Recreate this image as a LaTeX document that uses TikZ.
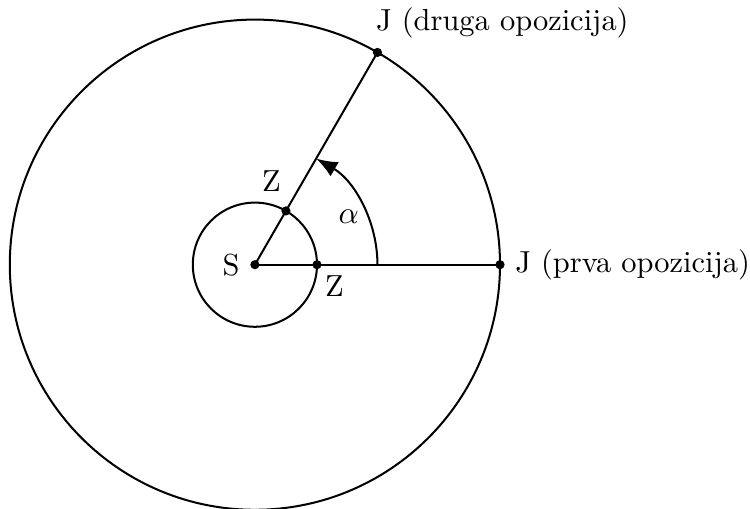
\documentclass[tikz,border=0pt]{standalone}
\usepackage{amsmath,amssymb}
\usepackage{tikz}
\usetikzlibrary{arrows.meta, positioning, calc}

\begin{document}
\begin{tikzpicture}[
    every node/.style={font=\fontsize{10.6}{13}\selectfont},
    orbit/.style={line width=0.7pt},
    ray/.style={line width=0.7pt},
    dot/.style={circle, fill=black, inner sep=0pt, minimum size=3.2pt},
    arrow/.style={-{Latex[length=2.6mm, width=2mm]}, line width=0.7pt}
]
\useasboundingbox (-3.12,-2.98) rectangle (6.06,3.24);

% orbits
\node[dot] (sun) at (0,0) {};
\draw[orbit] (sun.center) circle (0.76);
\draw[orbit] (sun.center) circle (3);

% points on the orbits
\node[dot] (z1) at (0:0.76) {};
\node[dot] (z2) at (60:0.76) {};
\node[dot] (j1) at (0:3) {};
\node[dot] (j2) at (60:3) {};
\coordinate (a0) at (0:1.5);

\draw[ray] (sun.center) -- (j1.center);
\draw[ray] (sun.center) -- (j2.center);
\draw[arrow] (a0) arc[start angle=0, end angle=60, radius=1.5];

% labels
\node[left=0pt of sun] (slabel) {S};
\node[below right=-1pt and -2pt of z1] (z1label) {Z};
\node[above left=2pt and -3pt of z2] (z2label) {Z};
\node (alabel) at (27:1.29) {$\alpha$};
\node[right=0pt of j1] (j1label) {J (prva opozicija)};
\node[anchor=south west, xshift=-4pt, yshift=1.5pt] (j2label) at (j2) {J (druga opozicija)};

\end{tikzpicture}
\end{document}
